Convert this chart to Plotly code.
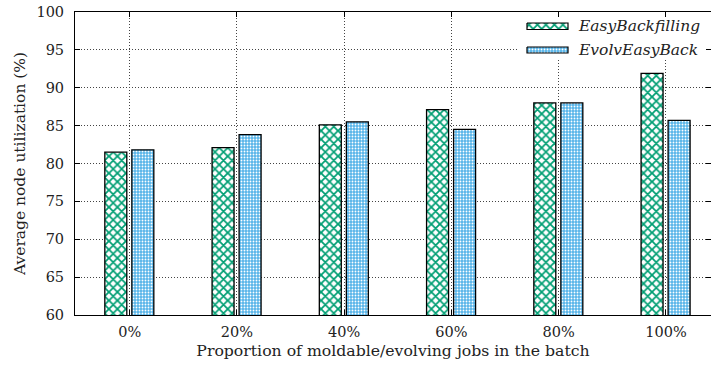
import plotly.graph_objects as go

# Batch composition (share of moldable/evolving jobs) and utilization per scheduler
categories = ["0%", "20%", "40%", "60%", "80%", "100%"]
easy_backfilling = [81.5, 82.1, 85.1, 87.1, 88.0, 91.9]
evolv_easy_back = [81.8, 83.8, 85.5, 84.5, 88.0, 85.7]
series_names = ["EasyBackfilling", "EvolvEasyBack"]
y_ticks = [60, 65, 70, 75, 80, 85, 90, 95, 100]

W, H = 711, 369
L, R, T, B = 75, 0, 12, 54
FONT = "DejaVu Serif"
GREEN = "#009e73"
BLUE = "#56b4e9"
INK = "#222"

xs = list(range(len(categories)))

green_fill = dict(shape="x", fgcolor=GREEN, bgcolor="white", size=6, solidity=0.5, fillmode="replace")
blue_fill = dict(shape=".", fgcolor="white", bgcolor=BLUE, size=3, solidity=0.3, fillmode="replace")

fig = go.Figure()

fig.add_trace(go.Bar(
    x=xs, y=easy_backfilling, name=series_names[0],
    width=0.205, offset=-0.232,
    marker=dict(color="white", line=dict(color="black", width=1.3), pattern=green_fill),
    showlegend=False,
))
fig.add_trace(go.Bar(
    x=xs, y=evolv_easy_back, name=series_names[1],
    width=0.205, offset=0.02,
    marker=dict(color=BLUE, line=dict(color="black", width=1.3), pattern=blue_fill),
    showlegend=False,
))


# Key drawn in a pixel-based overlay frame, so the swatches can be wide strips
def box(x0, x1, y0, y1, fill, pattern=None, line=None):
    fig.add_trace(go.Scatter(
        x=[x0, x1, x1, x0, x0], y=[y0, y0, y1, y1, y0],
        xaxis="x2", yaxis="y2", mode="lines", fill="toself",
        fillcolor=fill, fillpattern=pattern,
        line=line or dict(width=0, color=fill),
        showlegend=False, hoverinfo="skip",
    ))


# white backing behind the key, hiding the grid there
box(519, 707, 13, 58, "white")
box(527, 568, 23, 29.5, "white", green_fill, dict(color="black", width=1.2))
box(527, 568, 47, 53, BLUE, blue_fill, dict(color="black", width=1.2))

for name, yc in zip(series_names, [26, 50]):
    fig.add_annotation(x=576, y=yc, xref="x2", yref="y2", text=f"<i>{name}</i>",
                       showarrow=False, xanchor="left", yanchor="middle",
                       font=dict(family=FONT, size=15.5, color=INK))

tick_font = dict(family=FONT, size=14.5, color=INK)
grid = dict(showgrid=True, gridcolor="#444", griddash="1px,2px", gridwidth=1,
            showline=True, linecolor="black", linewidth=1, mirror="allticks",
            ticks="inside", ticklen=5, tickcolor="black", zeroline=False,
            tickfont=tick_font)

fig.update_layout(
    width=W, height=H,
    margin=dict(l=L, r=R, t=T, b=B, pad=0),
    paper_bgcolor="white", plot_bgcolor="white",
    barmode="overlay",
    font=tick_font,
    xaxis=dict(
        range=[-0.51, 5.42], tickmode="array", tickvals=xs, ticktext=categories,
        ticklabelstandoff=4,
        title=dict(text="Proportion of moldable/evolving jobs in the batch",
                   font=dict(family=FONT, size=15.7, color=INK), standoff=5),
        **grid,
    ),
    yaxis=dict(
        range=[60, 100], tickmode="array", tickvals=y_ticks,
        ticklabelstandoff=7,
        title=dict(text="Average node utilization (%)",
                   font=dict(family=FONT, size=15.5, color=INK), standoff=6),
        **grid,
    ),
    xaxis2=dict(overlaying="x", range=[L, W - R], visible=False, fixedrange=True),
    yaxis2=dict(overlaying="y", range=[H - B, T], visible=False, fixedrange=True),
)

fig.write_html("out.html")
